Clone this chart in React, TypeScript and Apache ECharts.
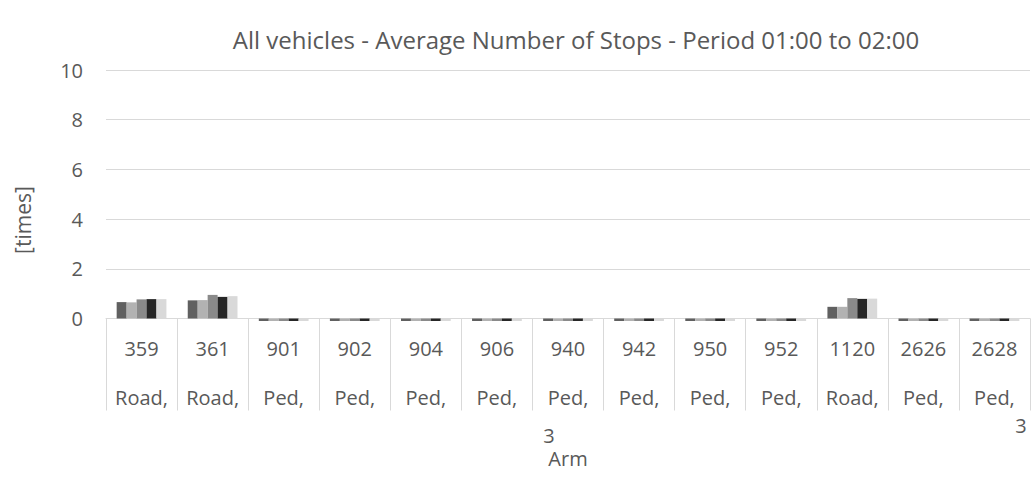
import React, { useEffect, useRef } from "react";
import * as echarts from "echarts";

const categories = ["359", "361", "901", "902", "904", "906", "940", "942", "950", "952", "1120", "2626", "2628"];
const armTypes = ["Road,", "Road,", "Ped,", "Ped,", "Ped,", "Ped,", "Ped,", "Ped,", "Ped,", "Ped,", "Road,", "Ped,", "Ped,"];
const series1 = [0.66, 0.73, -0.1, -0.1, -0.1, -0.1, -0.1, -0.1, -0.1, -0.1, 0.47, -0.1, -0.1];
const series2 = [0.65, 0.74, -0.1, -0.1, -0.1, -0.1, -0.1, -0.1, -0.1, -0.1, 0.47, -0.1, -0.1];
const series3 = [0.77, 0.95, -0.1, -0.1, -0.1, -0.1, -0.1, -0.1, -0.1, -0.1, 0.82, -0.1, -0.1];
const series4 = [0.78, 0.87, -0.1, -0.1, -0.1, -0.1, -0.1, -0.1, -0.1, -0.1, 0.79, -0.1, -0.1];
const series5 = [0.78, 0.9, -0.1, -0.1, -0.1, -0.1, -0.1, -0.1, -0.1, -0.1, 0.8, -0.1, -0.1];
const seriesColors = ["#606060", "#b2b2b2", "#8a8a8a", "#262626", "#d9d9d9"];
const yTicks = { min: 0, max: 10, interval: 2 };
const titleText = "All vehicles - Average Number of Stops - Period 01:00 to 02:00";
const yAxisTitle = "[times]";
const xAxisTitle = "Arm";
const overflowLabels = ["3", "3"];

const FONT = "'Open Sans', sans-serif";
const TEXT = "#595959";
const LINE = "#d9d9d9";

export default function App() {
  const ref = useRef<HTMLDivElement>(null);
  useEffect(() => {
    if (!ref.current) return;
    const chart = echarts.init(ref.current, null, { renderer: "svg" });
    const all = [series1, series2, series3, series4, series5];
    chart.setOption({
      animation: false,
      backgroundColor: "#ffffff",
      title: {
        text: titleText,
        left: 571,
        top: 22,
        textAlign: "center",
        textStyle: { fontFamily: FONT, fontSize: 24, fontWeight: "normal", color: TEXT },
      },
      grid: { left: 106, right: 4, top: 70, bottom: 158.5 },
      xAxis: {
        type: "category",
        data: categories.map((c, i) => c + "\n" + armTypes[i]),
        axisLine: { lineStyle: { color: LINE, width: 1 } },
        axisTick: { show: true, length: 92, interval: 0, lineStyle: { color: LINE, width: 1 } },
        axisLabel: {
          interval: 0,
          margin: 5,
          fontFamily: FONT,
          fontSize: 20,
          color: TEXT,
          lineHeight: 49,
        },
      },
      yAxis: {
        type: "value",
        min: yTicks.min,
        max: yTicks.max,
        interval: yTicks.interval,
        axisLine: { show: false },
        axisTick: { show: false },
        splitLine: { lineStyle: { color: LINE, width: 1 } },
        axisLabel: { margin: 23, fontFamily: FONT, fontSize: 20, color: TEXT },
      },
      series: all.map((d, i) => ({
        type: "bar",
        data: d,
        clip: false,
        barGap: "0%",
        barCategoryGap: "30%",
        itemStyle: { color: seriesColors[i] },
      })),
      graphic: [
        {
          type: "text",
          x: 23,
          y: 220,
          rotation: Math.PI / 2,
          style: { text: yAxisTitle, fontFamily: FONT, fontSize: 21, fill: TEXT, align: "center", verticalAlign: "middle" },
        },
        {
          type: "text",
          x: 549,
          y: 435,
          style: { text: overflowLabels[0], fontFamily: FONT, fontSize: 20, fill: TEXT, align: "center", verticalAlign: "middle" },
        },
        {
          type: "text",
          x: 1021,
          y: 425,
          style: { text: overflowLabels[1], fontFamily: FONT, fontSize: 20, fill: TEXT, align: "center", verticalAlign: "middle" },
        },
        {
          type: "text",
          x: 568,
          y: 458,
          style: { text: xAxisTitle, fontFamily: FONT, fontSize: 20, fill: TEXT, align: "center", verticalAlign: "middle" },
        },
      ],
    });
    return () => chart.dispose();
  }, []);
  return <div ref={ref} style={{ position: "fixed", left: 0, top: 0, width: 1034, height: 477 }} />;
}
